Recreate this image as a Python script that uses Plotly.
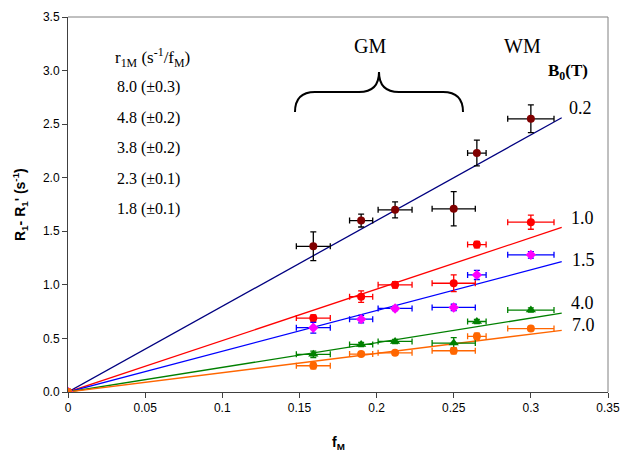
import plotly.graph_objects as go

# ---- data ----
f_M = [0, 0.159, 0.19, 0.212, 0.25, 0.265, 0.30]
f_M_err = [0, 0.011, 0.0075, 0.011, 0.014, 0.006, 0.015]

fields = ["0.2", "1.0", "1.5", "4.0", "7.0"]
r1M = [8.0, 4.8, 3.8, 2.3, 1.8]
r1M_err = ["±0.3", "±0.2", "±0.2", "±0.1", "±0.1"]

dR_02 = [0, 1.36, 1.60, 1.70, 1.71, 2.23, 2.55]
dR_02_err = [0, 0.134, 0.06, 0.074, 0.16, 0.12, 0.13]
dR_10 = [0, 0.69, 0.89, 1.00, 1.015, 1.376, 1.585]
dR_10_err = [0, 0.03, 0.053, 0.03, 0.078, 0.03, 0.066]
dR_15 = [0, 0.60, 0.68, 0.78, 0.789, 1.093, 1.28]
dR_15_err = [0, 0.05, 0.035, 0.02, 0.03, 0.043, 0.03]
dR_40 = [0, 0.352, 0.444, 0.472, 0.457, 0.658, 0.765]
dR_40_err = [0, 0.03, 0.02, 0.02, 0.05, 0.02, 0.02]
dR_70 = [0, 0.245, 0.354, 0.366, 0.385, 0.52, 0.592]
dR_70_err = [0, 0.03, 0.02, 0.02, 0.03, 0.03, 0.02]

fit_x = [0, 0.32]

series_y = [dR_02, dR_10, dR_15, dR_40, dR_70]
series_err = [dR_02_err, dR_10_err, dR_15_err, dR_40_err, dR_70_err]

# ---- styles ----
marker_colors = ["#800000", "#FF0000", "#FF00FF", "#008000", "#FF6600"]
err_colors = ["#000000", "#FF0000", "#0000FF", "#008000", "#FF6600"]
line_colors = ["#000080", "#FF0000", "#0000FF", "#008000", "#FF6600"]
symbols = ["circle", "circle", "diamond", "triangle-up", "circle"]
sizes = [8, 8, 8, 9, 8]

W, H = 620, 456
L, R, T, B = 68, 608, 17, 392
XMAX, YMAX = 0.35, 3.5


def px(x):
    return (x - L) / (R - L)


def py(y):
    return (B - y) / (B - T)


def dx(x):
    return (x - L) / (R - L) * XMAX


def dy(y):
    return (B - y) / (B - T) * YMAX


fig = go.Figure()

for k in range(5):
    fig.add_trace(go.Scatter(
        x=fit_x, y=[r1M[k] * v for v in fit_x], mode="lines",
        line=dict(color=line_colors[k], width=1.3), showlegend=False,
        hoverinfo="skip"))

for k in range(5):
    fig.add_trace(go.Scatter(
        x=f_M, y=series_y[k], mode="markers",
        marker=dict(color=marker_colors[k], symbol=symbols[k], size=sizes[k]),
        error_x=dict(type="data", array=f_M_err, color=err_colors[k],
                     thickness=1.3, width=3),
        error_y=dict(type="data", array=series_err[k], color=err_colors[k],
                     thickness=1.3, width=3),
        showlegend=False))

serif = "Liberation Serif, Times New Roman, serif"
sans = "Liberation Sans, Arial, sans-serif"


def note(x, y, text, size, family=serif, xanchor="center", angle=0):
    return dict(x=px(x), y=py(y), xref="paper", yref="paper", text=text,
                xanchor=xanchor, yanchor="middle", textangle=angle,
                showarrow=False, font=dict(family=family, size=size, color="#000"))


ann = []
ann.append(note(152, 57, "r<sub>1M</sub> (s<sup>-1</sup>/f<sub>M</sub>)", 17))
ys = [87, 118, 148, 179, 209]
for k in range(5):
    ann.append(note(115, ys[k], f"{r1M[k]:.1f} ({r1M_err[k]})", 16, xanchor="left"))
ann.append(note(370, 46, "GM", 20))
ann.append(note(522, 46, "WM", 20))
ann.append(note(568, 72, "<b>B<sub>0</sub>(T)</b>", 17))
lab_pos = [(580, 108), (582, 218), (583, 260), (582, 303), (583, 325)]
for k in range(5):
    ann.append(note(lab_pos[k][0], lab_pos[k][1], fields[k], 18))
# axis titles
ann.append(note(20, 205, "<b>R<sub>1</sub>- R<sub>1</sub>' (s<sup>-1</sup>)</b>", 14,
                family=sans, angle=-90))
ann.append(note(338, 443, "<b>f<sub>M</sub></b>", 14, family=sans))

# curly brace (pixel geometry converted to data coords)
bx0, bx1, bxm = 295, 463, 379
b_end, b_mid, b_top = 112, 92, 72
r = 20
path = (f"M {dx(bx0)},{dy(b_end)} Q {dx(bx0)},{dy(b_mid)} {dx(bx0 + r)},{dy(b_mid)} "
        f"L {dx(bxm - r)},{dy(b_mid)} Q {dx(bxm)},{dy(b_mid)} {dx(bxm)},{dy(b_top)} "
        f"Q {dx(bxm)},{dy(b_mid)} {dx(bxm + r)},{dy(b_mid)} "
        f"L {dx(bx1 - r)},{dy(b_mid)} Q {dx(bx1)},{dy(b_mid)} {dx(bx1)},{dy(b_end)}")
shapes = [
    dict(type="path", path=path, xref="x", yref="y",
         line=dict(color="#000", width=2)),
    dict(type="line", xref="paper", yref="paper", x0=0, x1=1, y0=1, y1=1,
         line=dict(color="#808080", width=1)),
    dict(type="line", xref="paper", yref="paper", x0=1, x1=1, y0=0, y1=1,
         line=dict(color="#808080", width=1)),
]

fig.update_layout(
    width=W, height=H,
    margin=dict(l=L, r=W - R, t=T, b=H - B, autoexpand=False),
    paper_bgcolor="white", plot_bgcolor="white",
    annotations=ann, shapes=shapes,
    xaxis=dict(range=[0, XMAX], tickvals=[0, 0.05, 0.1, 0.15, 0.2, 0.25, 0.3, 0.35],
               ticktext=["0", "0.05", "0.1", "0.15", "0.2", "0.25", "0.3", "0.35"],
               ticklabeloverflow="allow", automargin=False,
               showgrid=False, zeroline=False, showline=True, linecolor="#404040",
               linewidth=1, ticks="outside", ticklen=5, tickcolor="#404040",
               tickfont=dict(family=sans, size=12, color="#000")),
    yaxis=dict(range=[0, YMAX], tickvals=[0, 0.5, 1, 1.5, 2, 2.5, 3, 3.5],
               tickformat=".1f", automargin=False,
               showgrid=False, zeroline=False, showline=True, linecolor="#404040",
               linewidth=1, ticks="outside", ticklen=5, tickcolor="#404040",
               tickfont=dict(family=sans, size=12, color="#000")),
)

fig.write_html("out.html", config={"displayModeBar": False},
               post_script="document.body.style.margin='0px';document.body.style.overflow='hidden';")
